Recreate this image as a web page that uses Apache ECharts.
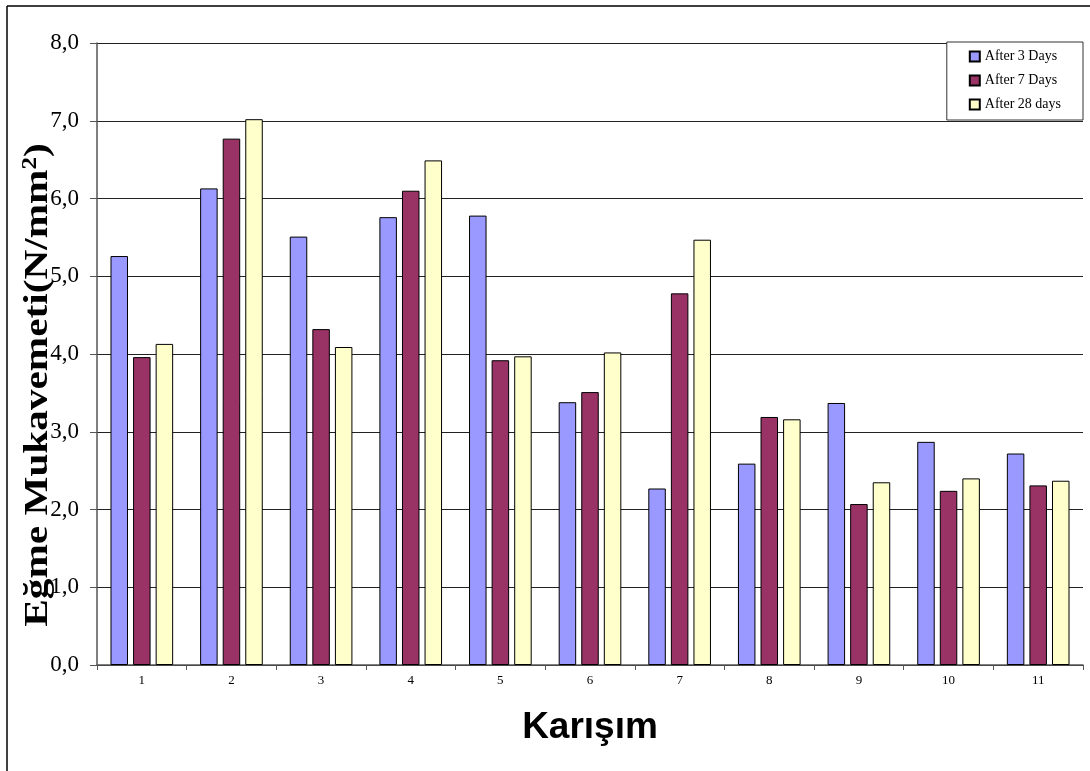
<!DOCTYPE html>
<html>
<head>
<meta charset="utf-8">
<script src="https://cdn.jsdelivr.net/npm/echarts@6/dist/echarts.min.js"></script>
<style>
  html, body { margin: 0; padding: 0; background: #fff; }
  #chart { width: 1090px; height: 771px; }
</style>
</head>
<body>
<div id="chart"></div>
<script>
// Mix numbers on the x axis
const categories = ['1', '2', '3', '4', '5', '6', '7', '8', '9', '10', '11'];

// Flexural strength (N/mm²) by curing age
const after3Days  = [5.26, 6.13, 5.51, 5.76, 5.78, 3.38, 2.27, 2.59, 3.37, 2.87, 2.72];
const after7Days  = [3.96, 6.77, 4.32, 6.10, 3.92, 3.51, 4.78, 3.19, 2.07, 2.24, 2.31];
const after28Days = [4.13, 7.02, 4.09, 6.49, 3.97, 4.02, 5.47, 3.16, 2.35, 2.40, 2.37];

const seriesNames = ['After 3 Days', 'After 7 Days', 'After 28 days'];
const seriesColors = ['#9999FF', '#993366', '#FFFFCC'];
const seriesValues = [after3Days, after7Days, after28Days];

const chart = echarts.init(document.getElementById('chart'), null, { renderer: 'canvas' });

const serif = '"Liberation Serif", "DejaVu Serif", serif';
const sans = '"Liberation Sans", Arial, sans-serif';

chart.setOption({
  animation: false,
  backgroundColor: '#ffffff',
  graphic: [
    // frame along the top and left edges
    { type: 'line', shape: { x1: 7, y1: 6, x2: 1090, y2: 6 }, style: { stroke: '#000', lineWidth: 1.5 } },
    { type: 'line', shape: { x1: 7, y1: 6, x2: 7, y2: 771 }, style: { stroke: '#000', lineWidth: 1.5 } },
    // vertical axis title, stretched along its reading direction
    {
      type: 'text',
      x: 38,
      y: 385,
      rotation: Math.PI / 2,
      scaleX: 1.25,
      style: {
        text: '{t|Eğme Mukavemeti(N/mm}{s|2}{t|)}',
        align: 'center',
        verticalAlign: 'middle',
        rich: {
          t: { fontFamily: serif, fontWeight: 'bold', fontSize: 33, fill: '#000' },
          s: { fontFamily: serif, fontWeight: 'bold', fontSize: 20, fill: '#000', verticalAlign: 'top', padding: [0, 0, 14, 0] }
        }
      }
    }
  ],
  legend: {
    orient: 'vertical',
    right: 7,
    top: 42,
    backgroundColor: '#ffffff',
    borderColor: '#333',
    borderWidth: 1,
    padding: [7, 22, 8, 22],
    itemGap: 9,
    itemWidth: 10,
    itemHeight: 10,
    icon: 'rect',
    textStyle: { fontFamily: serif, fontSize: 14, lineHeight: 15, color: '#000' },
    data: seriesNames
  },
  grid: { left: 97, right: 7, top: 43, bottom: 106, containLabel: false },
  xAxis: {
    type: 'category',
    data: categories,
    name: 'Karışım',
    nameLocation: 'middle',
    nameGap: 44,
    nameTextStyle: { fontFamily: sans, fontWeight: 'bold', fontSize: 37, color: '#000' },
    axisLine: { lineStyle: { color: '#555', width: 1.5 } },
    axisTick: { show: true, alignWithLabel: false, length: 5, lineStyle: { color: '#555' } },
    axisLabel: { fontFamily: serif, fontSize: 13, color: '#000', margin: 9 }
  },
  yAxis: {
    type: 'value',
    min: 0,
    max: 8,
    interval: 1,
    axisLine: { show: true, lineStyle: { color: '#555', width: 1.5 } },
    axisTick: { show: true, length: 7, lineStyle: { color: '#555' } },
    axisLabel: {
      fontFamily: serif, fontSize: 23, color: '#000', margin: 18,
      formatter: v => v.toFixed(1).replace('.', ',')
    },
    splitLine: { show: true, lineStyle: { color: '#222', width: 1 } }
  },
  series: seriesValues.map((vals, i) => ({
    name: seriesNames[i],
    type: 'bar',
    data: vals,
    barWidth: 17.5,
    barGap: '29%',
    itemStyle: { color: seriesColors[i], borderColor: '#000', borderWidth: 1 }
  }))
});
</script>
</body>
</html>
